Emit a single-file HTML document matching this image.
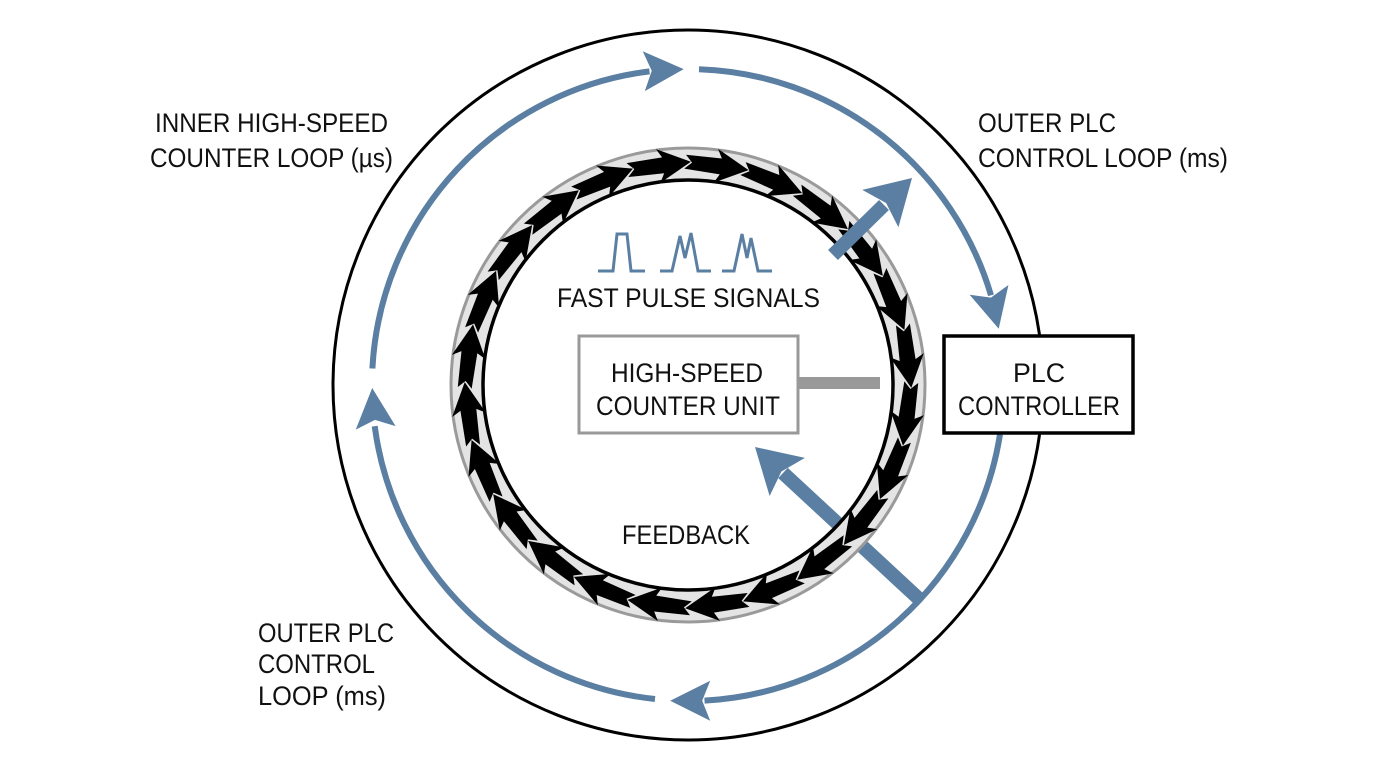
<!DOCTYPE html>
<html><head><meta charset="utf-8"><style>
html,body{margin:0;padding:0;background:#fff;}
svg{display:block;}
text{font-family:"Liberation Sans",sans-serif;font-size:27px;fill:#111;}
</style></head><body>
<svg width="1376" height="768" viewBox="0 0 1376 768" xmlns="http://www.w3.org/2000/svg">
<defs>
<path id="chev" d="M-32,-7 L4,-8 L-1,-17 L32,0 L-1,17 L4,8 L-32,7 L-25,0 Z" fill="#000"/>
<path id="ahd" d="M0,0 L-40,-20 L-32,0 L-40,20 Z" fill="#5a7fa2"/>
<path id="bhd" d="M0,0 L-44,-26 L-36,0 L-44,26 Z" fill="#5a7fa2"/>
</defs>

<circle cx="688" cy="385" r="355" fill="none" stroke="#000" stroke-width="3"/>

<g fill="none" stroke="#5a7fa2" stroke-width="6">
<path d="M372.4,368.5 A316,316 0 0 1 649.5,71.4"/>
<path d="M699,69.2 A316,316 0 0 1 991,295.3"/>
<path d="M1000,434.4 A316,316 0 0 1 704.5,700.6"/>
<path d="M655,699 A316,316 0 0 1 374.7,426.2"/>
</g>
<use href="#ahd" transform="translate(683.7 69.1) rotate(-3)"/>
<use href="#ahd" transform="translate(998.7 328.7) rotate(76)"/>
<use href="#ahd" transform="translate(670.2 700.7) rotate(180)"/>
<use href="#ahd" transform="translate(372.2 388) rotate(265)"/>

<circle cx="688" cy="385" r="205" fill="#fff"/>

<line x1="918" y1="598" x2="783" y2="473" stroke="#5a7fa2" stroke-width="14"/>
<use href="#bhd" transform="translate(755 447) rotate(222.8)"/>

<circle cx="688" cy="385" r="221" fill="none" stroke="#e4e4e4" stroke-width="32"/>
<circle cx="688" cy="385" r="237" fill="none" stroke="#9a9a9a" stroke-width="3"/>
<circle cx="688" cy="385" r="205" fill="none" stroke="#000" stroke-width="3.5"/>

<g>
<use href="#chev" transform="rotate(7.5 688 385) translate(688 164)"/>
<use href="#chev" transform="rotate(22.5 688 385) translate(688 164)"/>
<use href="#chev" transform="rotate(37.5 688 385) translate(688 164)"/>
<use href="#chev" transform="rotate(52.5 688 385) translate(688 164)"/>
<use href="#chev" transform="rotate(67.5 688 385) translate(688 164)"/>
<use href="#chev" transform="rotate(82.5 688 385) translate(688 164)"/>
<use href="#chev" transform="rotate(97.5 688 385) translate(688 164)"/>
<use href="#chev" transform="rotate(112.5 688 385) translate(688 164)"/>
<use href="#chev" transform="rotate(127.5 688 385) translate(688 164)"/>
<use href="#chev" transform="rotate(142.5 688 385) translate(688 164)"/>
<use href="#chev" transform="rotate(157.5 688 385) translate(688 164)"/>
<use href="#chev" transform="rotate(172.5 688 385) translate(688 164)"/>
<use href="#chev" transform="rotate(187.5 688 385) translate(688 164)"/>
<use href="#chev" transform="rotate(202.5 688 385) translate(688 164)"/>
<use href="#chev" transform="rotate(217.5 688 385) translate(688 164)"/>
<use href="#chev" transform="rotate(232.5 688 385) translate(688 164)"/>
<use href="#chev" transform="rotate(247.5 688 385) translate(688 164)"/>
<use href="#chev" transform="rotate(262.5 688 385) translate(688 164)"/>
<use href="#chev" transform="rotate(277.5 688 385) translate(688 164)"/>
<use href="#chev" transform="rotate(292.5 688 385) translate(688 164)"/>
<use href="#chev" transform="rotate(307.5 688 385) translate(688 164)"/>
<use href="#chev" transform="rotate(322.5 688 385) translate(688 164)"/>
<use href="#chev" transform="rotate(337.5 688 385) translate(688 164)"/>
<use href="#chev" transform="rotate(352.5 688 385) translate(688 164)"/>
</g>

<line x1="833" y1="255" x2="884" y2="205" stroke="#5a7fa2" stroke-width="14"/>
<use href="#bhd" transform="translate(912 178) rotate(-44)"/>

<g fill="none" stroke="#5a7fa2" stroke-width="3">
<path d="M598,271 H613 L617,234 H627 L631,271 H645"/>
<path d="M660,271 H672 L680,236 L685,258 L691,233 L698,271 H711"/>
<path d="M722,271 H734 L742,234 L747,258 L751,238 L758,271 H772"/>
</g>

<rect x="798" y="377" width="82" height="12" fill="#999"/>
<rect x="579" y="336" width="219" height="97" fill="#fff" stroke="#999" stroke-width="3"/>
<rect x="944" y="336" width="189" height="97" fill="#fff" stroke="#000" stroke-width="3.5"/>

<text x="155" y="132" textLength="233" lengthAdjust="spacingAndGlyphs">INNER HIGH-SPEED</text>
<text x="150" y="167" textLength="243" lengthAdjust="spacingAndGlyphs">COUNTER LOOP (µs)</text>
<text x="978" y="132" textLength="138" lengthAdjust="spacingAndGlyphs">OUTER PLC</text>
<text x="978" y="167" textLength="250" lengthAdjust="spacingAndGlyphs">CONTROL LOOP (ms)</text>
<text x="258" y="642" textLength="136" lengthAdjust="spacingAndGlyphs">OUTER PLC</text>
<text x="258" y="673" textLength="117" lengthAdjust="spacingAndGlyphs">CONTROL</text>
<text x="258" y="705" textLength="128" lengthAdjust="spacingAndGlyphs">LOOP (ms)</text>
<text x="557" y="307" textLength="263" lengthAdjust="spacingAndGlyphs">FAST PULSE SIGNALS</text>
<text x="611" y="382" textLength="152" lengthAdjust="spacingAndGlyphs">HIGH-SPEED</text>
<text x="596" y="415" textLength="184" lengthAdjust="spacingAndGlyphs">COUNTER UNIT</text>
<text x="1013" y="382" textLength="52" lengthAdjust="spacingAndGlyphs">PLC</text>
<text x="958" y="415" textLength="162" lengthAdjust="spacingAndGlyphs">CONTROLLER</text>
<text x="622" y="544" textLength="128" lengthAdjust="spacingAndGlyphs">FEEDBACK</text>
</svg>
</body></html>
